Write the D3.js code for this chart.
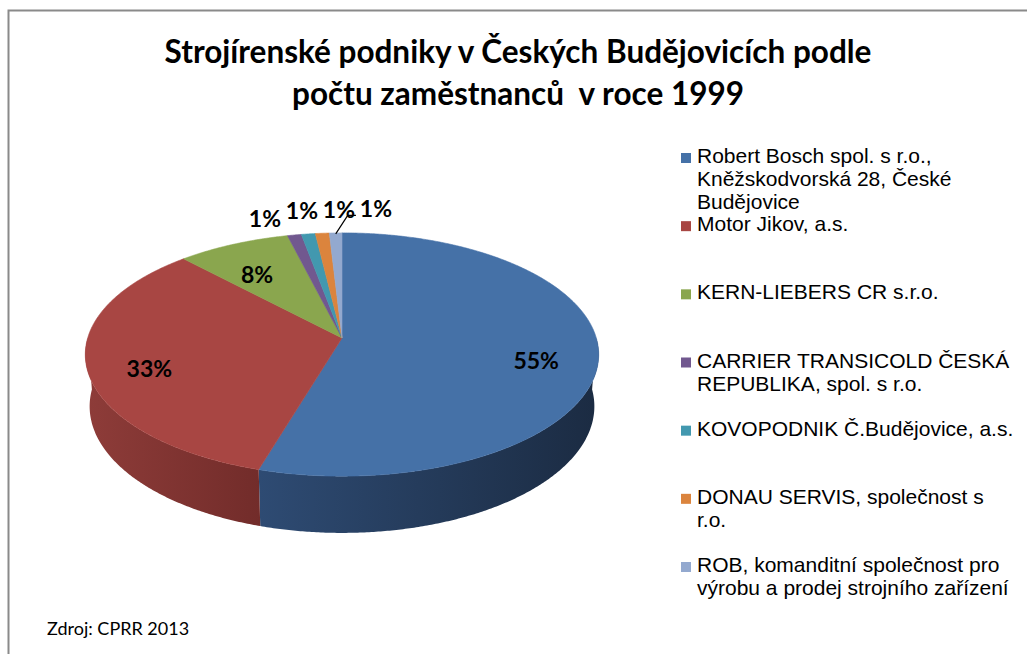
<!DOCTYPE html>
<html>
<head>
<meta charset="utf-8">
<script src="https://cdn.jsdelivr.net/npm/d3@7"></script>
<style>
  body { margin: 0; background: #fff; }
  svg { display: block; }
</style>
</head>
<body>
<div id="chart"></div>
<script>
// values (share of employees, %)
var companies = [
  "Robert Bosch spol. s r.o., Kněžskodvorská 28, České Budějovice",
  "Motor Jikov, a.s.",
  "KERN-LIEBERS CR s.r.o.",
  "CARRIER TRANSICOLD ČESKÁ REPUBLIKA, spol. s r.o.",
  "KOVOPODNIK Č.Budějovice, a.s.",
  "DONAU SERVIS, společnost s r.o.",
  "ROB, komanditní společnost pro výrobu a prodej strojního zařízení"
];
var legendLines = [
  ["Robert Bosch spol. s r.o.,", "Kněžskodvorská 28, České", "Budějovice"],
  ["Motor Jikov, a.s."],
  ["KERN-LIEBERS CR s.r.o."],
  ["CARRIER TRANSICOLD ČESKÁ", "REPUBLIKA, spol. s r.o."],
  ["KOVOPODNIK Č.Budějovice, a.s."],
  ["DONAU SERVIS, společnost s", "r.o."],
  ["ROB, komanditní společnost pro", "výrobu a prodej strojního zařízení"]
];
var shares = [54.6, 33.4, 8.1, 1.0, 1.0, 1.0, 0.9];
var topColors = ["#4571a7", "#a84643", "#8aa64e", "#71588f", "#4298af", "#db843d", "#93a9cf"];
var sideColors = [["#2e4b73", "#1b2b42"], ["#8e3c39", "#722c2a"], ["#6f8640", "#5a6d33"],
                  ["#5a4672", "#4a3a5e"], ["#357a8c", "#2b6473"], ["#b06a31", "#905728"], ["#7587a6", "#5f6d87"]];
var titleLines = ["Strojírenské podniky v Českých Budějovicích podle", "počtu zaměstnanců  v roce 1999"];
var sourceNote = "Zdroj: CPRR 2013";

var width = 1027, height = 654;

var svg = d3.select("#chart").append("svg")
  .attr("width", width)
  .attr("height", height);

// chart frame
svg.append("path")
  .attr("d", "M8.5," + height + "V10.5H" + width)
  .attr("fill", "none")
  .attr("stroke", "#8a8a8a")
  .attr("stroke-width", 2);

// title, fitted to the width it has in the picture
var title = svg.append("text")
  .attr("text-anchor", "middle")
  .style("white-space", "pre")
  .style("font-family", "Lato, 'Open Sans', sans-serif")
  .style("font-weight", "bold")
  .style("font-size", "28px")
  .attr("fill", "#000");
title.selectAll("tspan")
  .data(titleLines)
  .enter()
  .append("tspan")
  .attr("x", 518)
  .attr("y", function (d, i) { return 63 + i * 42; })
  .text(function (d) { return d; });
var firstLen = title.select("tspan").node().getComputedTextLength();
title.style("font-size", (28 * 707 / firstLen).toFixed(2) + "px");

// perspective projection of the pie (angle clockwise from the back, radius, height)
var cx = 342, cy = 338, focal = 1653, dist = 6.5, thick = 0.233;
var tilt = 28 * Math.PI / 180, ct = Math.cos(tilt), st = Math.sin(tilt);
function project(a, r, z) {
  var X = r * Math.sin(a), Y = r * Math.cos(a);
  var v = Y * st + z * ct, w = dist + Y * ct - z * st;
  return [cx + focal * X / w, cy - focal * v / w];
}
function arcPoints(a0, a1, r, z) {
  var n = Math.max(2, Math.ceil(Math.abs(a1 - a0) / 0.008));
  return d3.range(n + 1).map(function (i) { return project(a0 + (a1 - a0) * i / n, r, z); });
}

var pie = d3.pie().sort(null).startAngle(0).endAngle(2 * Math.PI);
var arcs = pie(shares);
var line = d3.line();

var defs = svg.append("defs");
sideColors.forEach(function (c, i) {
  var g = defs.append("linearGradient").attr("id", "side" + i)
    .attr("x1", 0).attr("x2", 1).attr("y1", 0).attr("y2", 0);
  g.append("stop").attr("offset", 0).attr("stop-color", c[0]);
  g.append("stop").attr("offset", 1).attr("stop-color", c[1]);
});

// outer walls, only the front half faces us
var sides = arcs.map(function (d, i) {
  var a0 = Math.max(d.startAngle, Math.PI / 2), a1 = Math.min(d.endAngle, 3 * Math.PI / 2);
  return {index: i, a0: a0, a1: a1};
}).filter(function (s) { return s.a1 > s.a0; });

svg.append("g").selectAll("path")
  .data(sides)
  .enter()
  .append("path")
  .attr("fill", function (s) { return "url(#side" + s.index + ")"; })
  .attr("d", function (s) {
    var top = arcPoints(s.a0, s.a1, 1, 0);
    var bottom = arcPoints(s.a1, s.a0, 1, -thick);
    return line(top.concat(bottom)) + "Z";
  });

// top faces
svg.append("g").selectAll("path")
  .data(arcs)
  .enter()
  .append("path")
  .attr("fill", function (d, i) { return topColors[i]; })
  .attr("stroke", function (d, i) { return topColors[i]; })
  .attr("stroke-width", 0.6)
  .attr("d", function (d) {
    return line([project(0, 0, 0)].concat(arcPoints(d.startAngle, d.endAngle, 1, 0))) + "Z";
  });

// data labels
var fmt = function (v) { return Math.round(v) + "%"; };
var labelFont = "Lato, 'Open Sans', sans-serif";
var inside = arcs.filter(function (d) { return d.value >= 5; });
var outside = arcs.filter(function (d) { return d.value < 5; });

svg.append("g").selectAll("text")
  .data(inside)
  .enter()
  .append("text")
  .attr("text-anchor", "middle")
  .attr("dominant-baseline", "central")
  .style("font-family", labelFont)
  .style("font-weight", "bold")
  .style("font-size", "23px")
  .attr("x", function (d) { return project((d.startAngle + d.endAngle) / 2, 0.76, 0)[0]; })
  .attr("y", function (d) { return project((d.startAngle + d.endAngle) / 2, 0.76, 0)[1] + 9; })
  .text(function (d) { return fmt(d.value); });

// small slices: labels above the rim, spread apart
var outPos = outside.map(function (d) { return project((d.startAngle + d.endAngle) / 2, 1.25, 0); });
var meanX = d3.mean(outPos, function (p) { return p[0]; }) + 11;
var gap = 37;
outside.forEach(function (d, i) {
  d.lx = meanX + (i - (outside.length - 1) / 2) * gap;
  d.ly = outPos[i][1] - (i === 0 ? -5 : 2);
});
svg.append("g").selectAll("text")
  .data(outside)
  .enter()
  .append("text")
  .attr("text-anchor", "middle")
  .attr("dominant-baseline", "central")
  .style("font-family", labelFont)
  .style("font-weight", "bold")
  .style("font-size", "23px")
  .attr("x", function (d) { return d.lx; })
  .attr("y", function (d) { return d.ly; })
  .text(function (d) { return fmt(d.value); });

// leader line for the last slice
var last = outside[outside.length - 1];
var rim = project((last.startAngle + last.endAngle) / 2, 0.99, 0);
svg.append("path")
  .attr("fill", "none")
  .attr("stroke", "#000")
  .attr("stroke-width", 1.2)
  .attr("d", line([rim, [rim[0] + 12, last.ly + 7], [last.lx - 20, last.ly + 7]]));

// legend
var legendY = d3.scaleLinear().domain([0, companies.length - 1]).range([163, 572]);
var legend = svg.append("g").selectAll("g")
  .data(companies)
  .enter()
  .append("g")
  .attr("transform", function (d, i) { return "translate(681," + legendY(i) + ")"; });
legend.append("rect")
  .attr("x", 0)
  .attr("y", -10)
  .attr("width", 10)
  .attr("height", 10)
  .attr("fill", function (d, i) { return topColors[i]; });
legend.append("text")
  .style("font-family", "'Liberation Sans', Arial, sans-serif")
  .style("font-size", "21px")
  .attr("fill", "#000")
  .each(function (d, i) {
    d3.select(this).selectAll("tspan")
      .data(legendLines[i])
      .enter()
      .append("tspan")
      .attr("x", 16)
      .attr("y", function (t, j) { return j * 23; })
      .text(function (t) { return t; });
  });

// source note
svg.append("text")
  .attr("x", 47)
  .attr("y", 635)
  .style("font-family", "Lato, 'Open Sans', sans-serif")
  .style("font-size", "18px")
  .attr("fill", "#000")
  .text(sourceNote);
</script>
</body>
</html>
